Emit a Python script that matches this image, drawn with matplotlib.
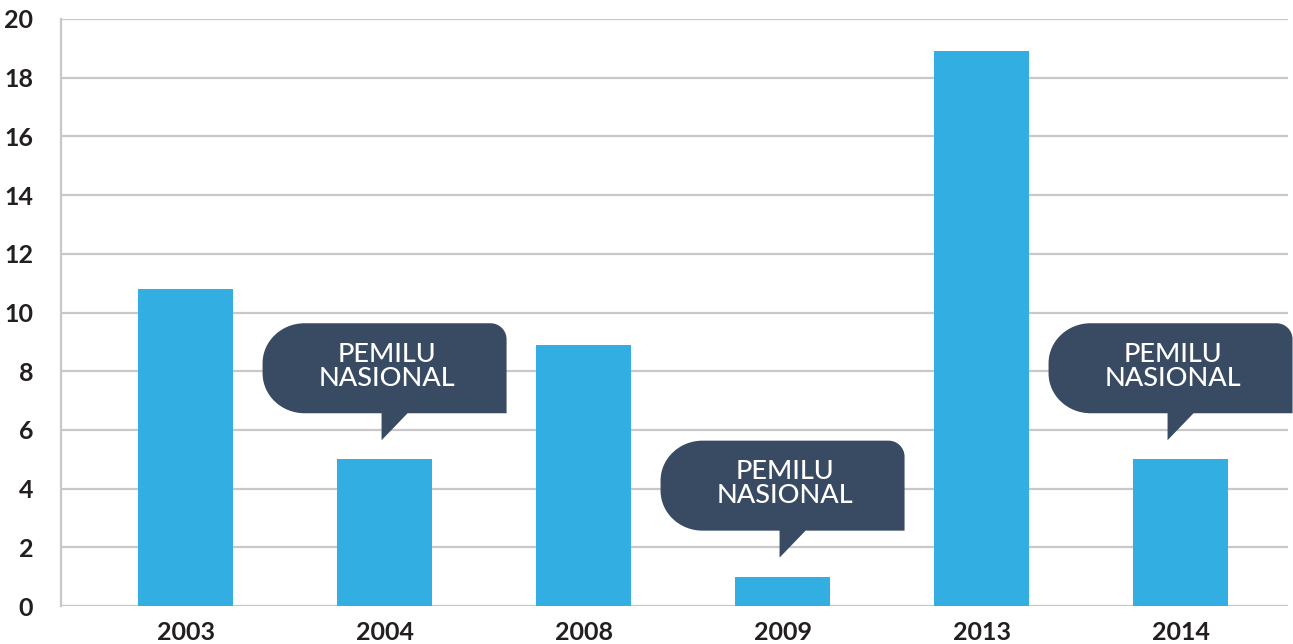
import matplotlib
matplotlib.use("Agg")
import matplotlib.pyplot as plt
from matplotlib.path import Path
from matplotlib import patches, transforms

# data
years = ["2003", "2004", "2008", "2009", "2013", "2014"]
values = [10.8, 5.0, 8.9, 1.0, 18.9, 5.0]
pemilu_years = ["2004", "2009", "2014"]
bubble_text = "PEMILU\nNASIONAL"

bar_color = "#33aee3"
bubble_color = "#394a63"
grid_color = "#c8c8c8"
text_color = "#231f20"

plt.rcParams["font.family"] = ["Lato", "DejaVu Sans"]

fig = plt.figure(figsize=(12.93, 6.44), dpi=100)
ax = fig.add_axes([61 / 1293, 38 / 644, 1227 / 1293, 587 / 644])

x = list(range(len(years)))
ax.bar(x, values, width=0.477, color=bar_color, zorder=2)

ax.set_xlim(-0.626, 5.54)
ax.set_ylim(0, 20)
ax.set_yticks(range(0, 21, 2))
ax.set_xticks(x)
ax.set_xticklabels(years)
ax.grid(axis="y", color=grid_color, linewidth=1.6, zorder=0)
ax.set_axisbelow(True)
for s in ["top", "right", "bottom"]:
    ax.spines[s].set_visible(False)
ax.spines["left"].set_color(grid_color)
ax.spines["left"].set_linewidth(1.6)
ax.tick_params(axis="both", length=0, labelsize=18, labelcolor=text_color)
ax.tick_params(axis="y", pad=20)
ax.tick_params(axis="x", pad=11)
for lbl in ax.get_xticklabels() + ax.get_yticklabels():
    lbl.set_fontweight("bold")


def bubble_path(dx):
    # speech bubble in pixels, relative to the top centre of the bar
    L, R, B, T = -122 + dx, 122 + dx, 46, 136
    rx, ry, rr = 42, 40, 16
    k = 0.5523
    verts = [
        (L + rx, B),
        (-3 + dx, B), (-3 + dx, 19), (23 + dx, B),
        (R, B),
        (R, T - rr),
        (R, T - rr + rr * k), (R - rr + rr * k, T), (R - rr, T),
        (L + rx, T),
        (L + rx - rx * k, T), (L, T - ry + ry * k), (L, T - ry),
        (L, B + ry),
        (L, B + ry - ry * k), (L + rx - rx * k, B), (L + rx, B),
        (L + rx, B),
    ]
    codes = [Path.MOVETO,
             Path.LINETO, Path.LINETO, Path.LINETO,
             Path.LINETO,
             Path.LINETO,
             Path.CURVE4, Path.CURVE4, Path.CURVE4,
             Path.LINETO,
             Path.CURVE4, Path.CURVE4, Path.CURVE4,
             Path.LINETO,
             Path.CURVE4, Path.CURVE4, Path.CURVE4,
             Path.CLOSEPOLY]
    return Path(verts, codes)


nudge = {"2004": 0, "2009": 0, "2014": -10}

for i, yr in enumerate(years):
    if yr not in pemilu_years:
        continue
    tr = transforms.Affine2D() + transforms.ScaledTranslation(i, values[i], ax.transData)
    p = patches.PathPatch(bubble_path(nudge[yr]), facecolor=bubble_color,
                          edgecolor="none", transform=tr, clip_on=False, zorder=3)
    ax.add_patch(p)
    ax.annotate(bubble_text, xy=(i, values[i]), xytext=(2 + nudge[yr], 93),
                textcoords="offset pixels", ha="center", va="center",
                color="white", fontsize=19.5, fontweight="medium",
                linespacing=0.95, zorder=4, annotation_clip=False)

fig.savefig("out.png", dpi=100)
